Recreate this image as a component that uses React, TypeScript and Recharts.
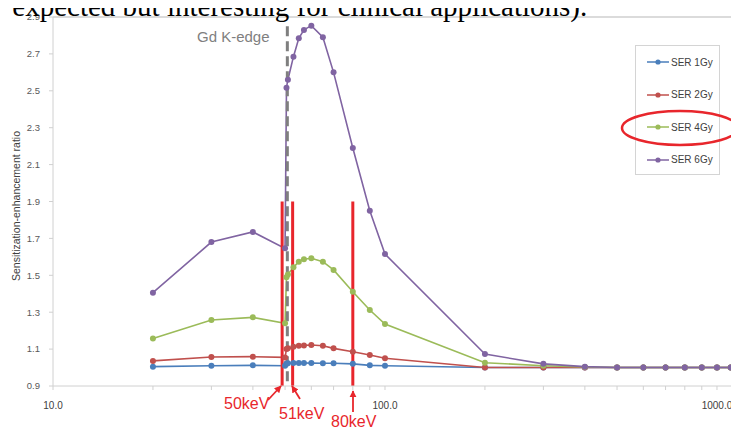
import React from "react";
import { LineChart, Line, XAxis, YAxis, ReferenceLine } from "recharts";

// energies in keV (log axis)
const energies = [
  20, 30, 40, 50, 50.5, 51, 53, 55, 57, 60, 65, 70, 80, 90, 100, 200, 300, 400,
  500, 600, 700, 800, 900, 1000, 1100,
];

const ser1Gy = [
  1.005, 1.01, 1.012, 1.01, 1.022, 1.023, 1.025, 1.025, 1.025, 1.024, 1.023,
  1.023, 1.02, 1.012, 1.01, 1.0, 1.0, 1.0, 1.0, 1.0, 1.0, 1.0, 1.0, 1.0, 1.0,
];
const ser2Gy = [
  1.036, 1.057, 1.059, 1.055, 1.1, 1.104, 1.113, 1.118, 1.12, 1.122, 1.118,
  1.104, 1.086, 1.068, 1.05, 1.0, 1.0, 1.0, 1.0, 1.0, 1.0, 1.0, 1.0, 1.0, 1.0,
];
const ser4Gy = [
  1.158, 1.258, 1.272, 1.24, 1.49, 1.505, 1.543, 1.574, 1.587, 1.592, 1.574,
  1.529, 1.411, 1.312, 1.236, 1.026, 1.01, 1.003, 1.0, 1.0, 1.0, 1.0, 1.0, 1.0,
  1.0,
];
const ser6Gy = [
  1.406, 1.68, 1.735, 1.646, 2.517, 2.56, 2.685, 2.785, 2.83, 2.853, 2.79, 2.6,
  2.19, 1.85, 1.615, 1.073, 1.02, 1.005, 1.0, 1.0, 1.0, 1.0, 1.0, 1.0, 1.0,
];

const seriesNames = ["SER 1Gy", "SER 2Gy", "SER 4Gy", "SER 6Gy"];
const seriesKeys = ["ser1", "ser2", "ser4", "ser6"];
const seriesColors = ["#4a7ebb", "#c0504d", "#9bbb59", "#8064a2"];

const xTicks = [
  10, 20, 30, 40, 50, 60, 70, 80, 90, 100, 200, 300, 400, 500, 600, 700, 800,
  900, 1000,
];
const xLabelTicks = [10, 100, 1000];
const yTicks = [0.9, 1.1, 1.3, 1.5, 1.7, 1.9, 2.1, 2.3, 2.5, 2.7, 2.9];

// annotation positions (keV)
const gdKEdge = 50.8;
const markerLines = [49, 52.7, 80];

const data = energies.map((e, i) => ({
  energy: e,
  ser1: ser1Gy[i],
  ser2: ser2Gy[i],
  ser4: ser4Gy[i],
  ser6: ser6Gy[i],
}));

const RED = "#e8262c";
const SANS = "Liberation Sans, Arial, sans-serif";

function EnergyTick(props: any) {
  const { x, y, payload } = props;
  if (!xLabelTicks.includes(payload.value)) return null;
  return (
    <text x={x} y={y} dy="0.71em" textAnchor="middle" fontSize={10} fill="#404040" fontFamily={SANS}>
      {payload.value.toFixed(1)}
    </text>
  );
}

// Excel-style legend box, drawn outside recharts so it doesn't eat plot space
function LegendBox() {
  return (
    <div
      style={{
        position: "absolute",
        left: 635,
        top: 45,
        width: 85,
        height: 130,
        border: "1px solid #d4d4d4",
        background: "#fff",
        boxSizing: "border-box",
      }}
    >
      {seriesNames.map((name, i) => (
        <div
          key={name}
          style={{ height: 32.5, display: "flex", alignItems: "center", paddingLeft: 11 }}
        >
          <svg width={23} height={8}>
            <line x1={0} y1={4} x2={22} y2={4} stroke={seriesColors[i]} strokeWidth={1.5} />
            <circle cx={11} cy={4} r={2.6} fill={seriesColors[i]} />
          </svg>
          <span
            style={{ fontSize: 10, color: "#404040", fontFamily: SANS, marginLeft: 1, whiteSpace: "nowrap" }}
          >
            {name}
          </span>
        </div>
      ))}
    </div>
  );
}

export default function App() {
  return (
    <div
      style={{
        position: "relative",
        width: 739,
        height: 437,
        margin: -8,
        overflow: "hidden",
        background: "#fff",
      }}
    >
      <LineChart
        width={739}
        height={437}
        data={data}
        margin={{ top: 17, right: 0, left: 8, bottom: 21 }}
      >
        <XAxis
          dataKey="energy"
          type="number"
          scale="log"
          domain={[10, 1165]}
          allowDataOverflow
          ticks={xTicks}
          interval={0}
          tick={<EnergyTick />}
          tickSize={4}
          tickMargin={12}
          height={30}
          axisLine={{ stroke: "#d0d0d0" }}
          tickLine={{ stroke: "#d0d0d0" }}
        />
        <YAxis
          type="number"
          domain={[0.9, 2.9]}
          ticks={yTicks}
          interval={0}
          width={45}
          tickSize={4}
          tickMargin={9}
          tickFormatter={(v: number) => v.toFixed(1)}
          tick={{ fontSize: 9.5, fill: "#595959", fontFamily: SANS }}
          axisLine={{ stroke: "#d0d0d0" }}
          tickLine={{ stroke: "#d0d0d0" }}
        />
        <ReferenceLine y={2.9} stroke="#cfcfcf" strokeWidth={1.5} />
        {seriesKeys.map((k, i) => (
          <Line
            key={k}
            dataKey={k}
            name={seriesNames[i]}
            stroke={seriesColors[i]}
            strokeWidth={1.6}
            dot={{ r: 3, fill: seriesColors[i], stroke: seriesColors[i], strokeWidth: 0 }}
            activeDot={false}
            isAnimationActive={false}
            type="linear"
          />
        ))}
        <ReferenceLine
          segment={[
            { x: gdKEdge, y: 2.85 },
            { x: gdKEdge, y: 0.9 },
          ]}
          stroke="#7f7f7f"
          strokeWidth={3}
          strokeDasharray="10 5"
        />
        {markerLines.map((m) => (
          <ReferenceLine
            key={m}
            segment={[
              { x: m, y: 1.9 },
              { x: m, y: 0.9 },
            ]}
            stroke={RED}
            strokeWidth={3}
          />
        ))}
      </LineChart>
      <LegendBox />
      <svg
        width={739}
        height={437}
        style={{ position: "absolute", left: 0, top: 0, pointerEvents: "none" }}
      >
        <defs>
          <marker id="ah" viewBox="0 0 10 10" refX="9" refY="5" markerWidth="4" markerHeight="4" orient="auto">
            <path d="M0,0 L10,5 L0,10 z" fill={RED} />
          </marker>
        </defs>
        <text x={-3} y={16} fontSize={29} fontFamily="Liberation Serif, Times New Roman, serif" fill="#000">
          t expected but interesting for clinical applications).
        </text>
        <text x={197} y={42} fontSize={15} fill="#7f7f7f" fontFamily={SANS}>
          Gd K-edge
        </text>
        <text
          transform="translate(20,206) rotate(-90)"
          textAnchor="middle"
          fontSize={10.5}
          fill="#404040"
          fontFamily={SANS}
        >
          Sensitization-enhancement ratio
        </text>
        <text x={406} y={436} textAnchor="middle" fontSize={9.5} fill="#404040" fontFamily={SANS}>
          Energy [keV]
        </text>
        <g fontSize={16} fill={RED} fontFamily={SANS}>
          <text x={224} y={409}>50keV</text>
          <text x={279} y={419}>51keV</text>
          <text x={331} y={427}>80keV</text>
        </g>
        <g stroke={RED} strokeWidth={1.8} fill="none">
          <line x1={268} y1={400} x2={281} y2={386} markerEnd="url(#ah)" />
          <line x1={300} y1={399} x2={292} y2={386} markerEnd="url(#ah)" />
          <line x1={353} y1={412} x2={353} y2={391} markerEnd="url(#ah)" />
        </g>
        <ellipse cx={680} cy={128} rx={58} ry={17} fill="none" stroke={RED} strokeWidth={2.5} />
      </svg>
    </div>
  );
}
